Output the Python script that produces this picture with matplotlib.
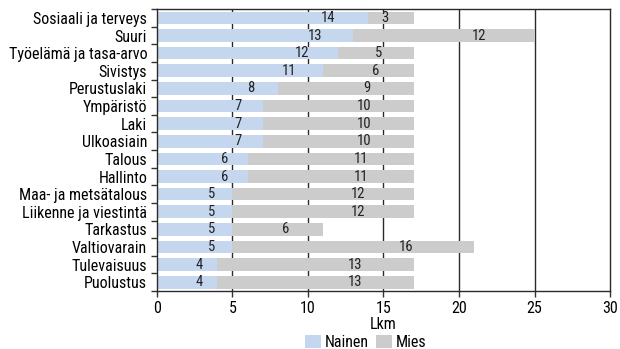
import matplotlib
matplotlib.use('Agg')
import matplotlib.pyplot as plt
import numpy as np

plt.rcParams['font.family'] = ['Roboto Condensed', 'DejaVu Sans']

# committees and counts by gender
committees = ['Sosiaali ja terveys', 'Suuri', 'Työelämä ja tasa-arvo', 'Sivistys',
              'Perustuslaki', 'Ympäristö', 'Laki', 'Ulkoasiain', 'Talous', 'Hallinto',
              'Maa- ja metsätalous', 'Liikenne ja viestintä', 'Tarkastus',
              'Valtiovarain', 'Tulevaisuus', 'Puolustus']
nainen = [14, 13, 12, 11, 8, 7, 7, 7, 6, 6, 5, 5, 5, 5, 4, 4]
mies = [3, 12, 5, 6, 9, 10, 10, 10, 11, 11, 12, 12, 6, 16, 13, 13]
xticks = [0, 5, 10, 15, 20, 25, 30]

BLUE = '#c5d7ee'
GREY = '#cccccc'

fig = plt.figure(figsize=(6.2, 3.49), dpi=100)
ax = fig.add_axes([0.253, 0.166, 0.731, 0.808])

y = np.arange(len(committees))
nainen = np.array(nainen)
mies = np.array(mies)

ax.barh(y, nainen, height=0.72, color=BLUE, zorder=2, label='Nainen')
ax.barh(y, mies, left=nainen, height=0.72, color=GREY, zorder=2, label='Mies')

# value labels: the original sits them right of the segment centre
for yi, n, m in zip(y, nainen, mies):
    ax.text(n / 2 + 0.35 * n - 0.6, yi, str(n), ha='center', va='center', fontsize=10.5,
            color='#222222', zorder=3)
    ax.text(n + m / 2 + 0.3 * m - 1.3, yi, str(m), ha='center', va='center', fontsize=10.5,
            color='#222222', zorder=3)

ax.set_xlim(0, 30)
ax.set_ylim(len(committees) - 0.5, -0.5)
ax.set_xticks(xticks)
ax.set_xticklabels([str(t) for t in xticks], fontsize=11.5)
ax.set_yticks(y)
ax.set_yticklabels(committees, fontsize=11.5)
ax.tick_params(axis='y', which='major', length=0, pad=7)
ax.set_yticks(np.arange(-0.5, len(committees), 1), minor=True)
ax.tick_params(axis='y', which='minor', length=4, width=1, color='#333333')
ax.tick_params(axis='x', length=4, width=1, color='#333333', pad=3)

for t in xticks[1:-1]:
    ax.axvline(t, color='#2a2a2a', lw=1, zorder=1)
for s in ax.spines.values():
    s.set_color('#2a2a2a')
    s.set_linewidth(1)

ax.set_xlabel('Lkm', fontsize=11.5, labelpad=1)

fig.legend(loc='lower center', bbox_to_anchor=(0.59, -0.03), ncol=2, frameon=False,
           fontsize=11.5, handlelength=1.0, handleheight=0.9, handletextpad=0.2,
           columnspacing=0.5, borderpad=0.1)

fig.savefig('out.png', dpi=100)
